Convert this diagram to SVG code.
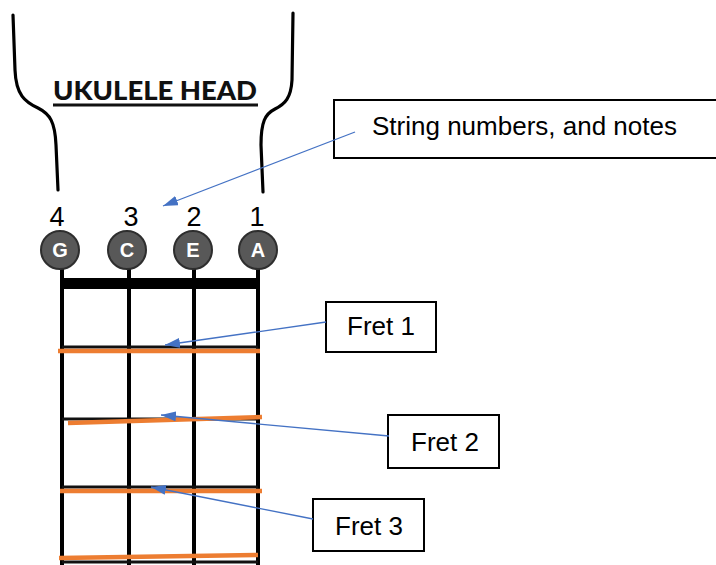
<svg xmlns="http://www.w3.org/2000/svg" width="716" height="565" viewBox="0 0 716 565">
  <style>
    .head { fill: none; stroke: #000; stroke-width: 3.2; stroke-linecap: round; }
    .title { font-family: Lato, "Open Sans", sans-serif; font-weight: 900; font-size: 27px; fill: #111; }
    .num { font-family: "Liberation Sans", Arial, sans-serif; font-size: 27px; fill: #000; text-anchor: middle; }
    .peg { fill: #585858; stroke: #2e2e2e; stroke-width: 2; }
    .note { font-family: "Liberation Sans", Arial, sans-serif; font-weight: bold; font-size: 20px; fill: #fff; text-anchor: middle; }
    .string { stroke: #000; stroke-width: 4; }
    .fret { stroke: #111; stroke-width: 3; }
    .orange { stroke: #ED7D31; stroke-width: 4.5; }
    .box { fill: #fff; stroke: #000; stroke-width: 2; }
    .label { font-family: "Liberation Sans", Arial, sans-serif; font-size: 26px; fill: #000; }
    .arrow { stroke: #4472C4; stroke-width: 1.3; fill: none; marker-end: url(#tip); }
  </style>
  <defs>
    <marker id="tip" viewBox="0 0 15 10" refX="15" refY="5" markerWidth="15" markerHeight="10" markerUnits="userSpaceOnUse" orient="auto">
      <path d="M0,0 L15,5 L0,10 z" fill="#4472C4"/>
    </marker>
  </defs>

  <rect width="716" height="565" fill="#fff"/>

  <!-- headstock outline and title -->
  <g id="headstock">
    <path class="head" d="M13,15 L15,70 C16,95 25,102 38,108 C50,114 55,122 56,145 L58,190"/>
    <path class="head" d="M293,13 L292,80 C291,98 285,104 275,109 C265,114 261,122 261,145 L263,192"/>
    <text class="title" x="53" y="100" textLength="204" lengthAdjust="spacingAndGlyphs">UKULELE HEAD</text>
    <line x1="53" y1="105" x2="258" y2="105" stroke="#111" stroke-width="3"/>
  </g>

  <!-- string numbers -->
  <g id="string-numbers">
    <text class="num" x="57" y="226">4</text>
    <text class="num" x="131" y="226">3</text>
    <text class="num" x="194" y="226">2</text>
    <text class="num" x="257" y="226">1</text>
  </g>

  <!-- fretboard: strings, nut, frets -->
  <g id="fretboard">
    <line class="string" x1="62" y1="265" x2="62" y2="565"/>
    <line class="string" x1="129" y1="265" x2="129" y2="565"/>
    <line class="string" x1="194" y1="265" x2="194" y2="565"/>
    <line class="string" x1="258" y1="265" x2="258" y2="565"/>
    <rect x="60" y="278" width="200" height="11" fill="#000"/>
    <line class="fret" x1="62" y1="347" x2="258" y2="347"/>
    <line class="fret" x1="62" y1="419" x2="258" y2="419"/>
    <line class="fret" x1="62" y1="487" x2="258" y2="487"/>
    <line class="fret" x1="62" y1="562" x2="258" y2="562"/>
  </g>

  <!-- tuning pegs with open-string notes -->
  <g id="peg-G">
    <circle class="peg" cx="60" cy="250" r="19"/>
    <text class="note" x="60" y="257">G</text>
  </g>
  <g id="peg-C">
    <circle class="peg" cx="127" cy="250" r="19"/>
    <text class="note" x="127" y="257">C</text>
  </g>
  <g id="peg-E">
    <circle class="peg" cx="193" cy="250" r="19"/>
    <text class="note" x="193" y="257">E</text>
  </g>
  <g id="peg-A">
    <circle class="peg" cx="258" cy="250" r="19"/>
    <text class="note" x="258" y="257">A</text>
  </g>

  <!-- highlighted frets -->
  <g id="fret-marks">
    <line class="orange" x1="58" y1="351" x2="260" y2="351"/>
    <line class="orange" x1="68" y1="423" x2="262" y2="417"/>
    <line class="orange" x1="60" y1="491" x2="262" y2="491"/>
    <line class="orange" x1="59" y1="558" x2="258" y2="555"/>
  </g>

  <!-- callout boxes -->
  <g id="callout-strings">
    <rect class="box" x="334" y="100" width="400" height="58"/>
    <text class="label" x="372" y="135">String numbers, and notes</text>
  </g>
  <g id="callout-fret1">
    <rect class="box" x="326" y="302" width="110" height="50"/>
    <text class="label" x="347" y="335">Fret 1</text>
  </g>
  <g id="callout-fret2">
    <rect class="box" x="388" y="415" width="111" height="53"/>
    <text class="label" x="411" y="451">Fret 2</text>
  </g>
  <g id="callout-fret3">
    <rect class="box" x="313" y="499" width="111" height="52"/>
    <text class="label" x="335" y="535">Fret 3</text>
  </g>

  <!-- connectors -->
  <g id="connectors">
    <line class="arrow" x1="355" y1="132" x2="163" y2="206"/>
    <line class="arrow" x1="326" y1="322" x2="165" y2="345"/>
    <line class="arrow" x1="389" y1="436" x2="161" y2="415"/>
    <line class="arrow" x1="313" y1="519" x2="151" y2="487"/>
  </g>
</svg>
